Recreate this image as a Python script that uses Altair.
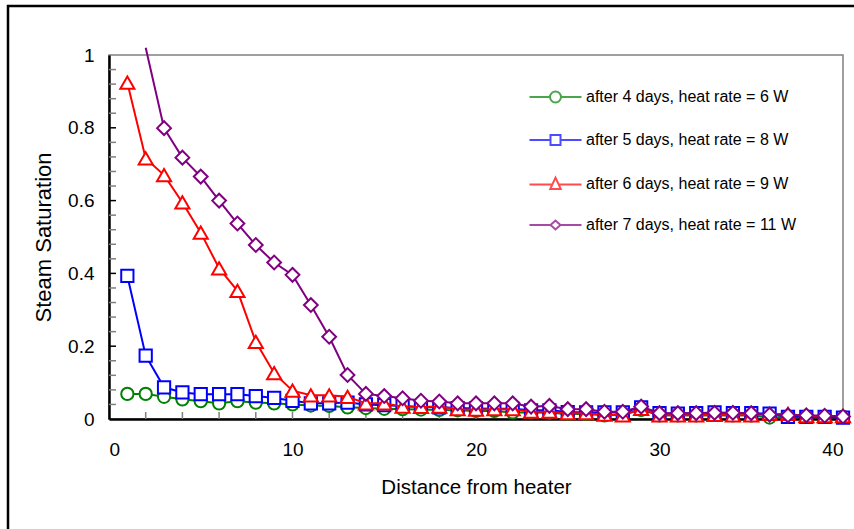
import altair as alt
import pandas as pd

# ---------------- data ----------------
X = list(range(1, 41))
SERIES = [
    "after 4 days, heat rate = 6 W",
    "after 5 days, heat rate = 8 W",
    "after 6 days, heat rate = 9 W",
    "after 7 days, heat rate = 11 W",
]
COLORS = ["#008000", "#0000FF", "#FF0000", "#800080"]

DAY4 = [0.069, 0.069, 0.061, 0.054, 0.049, 0.043, 0.049, 0.045, 0.043, 0.040,
        0.037, 0.036, 0.032, 0.030, 0.028, 0.027, 0.026, 0.025, 0.024, 0.022,
        0.022, 0.018, 0.018, 0.017, 0.014, 0.014, 0.010, 0.012, 0.025, 0.010,
        0.010, 0.010, 0.011, 0.010, 0.010, 0.004, 0.006, 0.006, 0.006, 0.006]
DAY5 = [0.393, 0.174, 0.087, 0.073, 0.068, 0.068, 0.068, 0.063, 0.058, 0.050,
        0.043, 0.043, 0.045, 0.040, 0.038, 0.036, 0.033, 0.032, 0.030, 0.029,
        0.028, 0.028, 0.024, 0.024, 0.019, 0.018, 0.018, 0.018, 0.032, 0.016,
        0.015, 0.016, 0.018, 0.016, 0.016, 0.015, 0.006, 0.006, 0.006, 0.004]
DAY6 = [0.924, 0.716, 0.670, 0.595, 0.512, 0.414, 0.352, 0.212, 0.126, 0.078,
        0.065, 0.065, 0.061, 0.043, 0.043, 0.034, 0.033, 0.034, 0.027, 0.026,
        0.027, 0.027, 0.020, 0.020, 0.016, 0.016, 0.012, 0.010, 0.028, 0.010,
        0.010, 0.010, 0.011, 0.010, 0.010, 0.014, 0.014, 0.008, 0.008, 0.008]
DAY7 = [None, 1.02, 0.799, 0.718, 0.666, 0.600, 0.537, 0.478, 0.430, 0.396,
        0.313, 0.226, 0.121, 0.069, 0.063, 0.057, 0.050, 0.048, 0.043, 0.043,
        0.043, 0.043, 0.034, 0.036, 0.027, 0.027, 0.020, 0.020, 0.034, 0.016,
        0.016, 0.016, 0.017, 0.017, 0.016, 0.012, 0.010, 0.010, 0.009, 0.007]
VALUES = [DAY4, DAY5, DAY6, DAY7]

Y_LABELS = [0, 0.2, 0.4, 0.6, 0.8, 1]
X_LABELS = [0, 10, 20, 30, 40]
Y_MAJOR_TICKS = [0.2, 0.4, 0.6, 0.8]
Y_MINOR_TICKS = [0.04, 0.08, 0.12, 0.16, 0.24, 0.28, 0.32, 0.36, 0.44, 0.48, 0.52,
                 0.56, 0.64, 0.68, 0.72, 0.76, 0.84, 0.88, 0.92, 0.96]
X_TICKS = [2, 4, 6, 8, 10, 12, 14, 16, 18, 20, 22, 24, 26, 28, 30, 32, 34, 36, 38]

# ---------------- styling ----------------
MARK_SHAPES = ["circle", "square", "triangle-up", "diamond"]
MARK_SIZES = [150, 150, 200, 190]
LEGEND_PATHS = [
    "M-4.73,0H-1M1,0H4.73M-1,0A1,1,0,1,1,1,0A1,1,0,1,1,-1,0Z",
    "M-4.73,0H-0.91M0.91,0H4.73M-0.91,-0.91H0.91V0.91H-0.91Z",
    "M-4.73,0.1H-0.54M0.54,0.1H4.73M0,-1.15L0.95,0.9H-0.95Z",
    "M-4.73,0H-0.91M0.91,0H4.73M-0.91,0L0,-0.82L0.91,0L0,0.82Z",
]
FONT = "Liberation Sans"
W, H = 734, 364

rows = []
for s, vals in zip(SERIES, VALUES):
    for x, v in zip(X, vals):
        if v is not None:
            rows.append({"x": x, "v": v, "series": s})
df = pd.DataFrame(rows)

xscale = alt.Scale(domain=[0, 40], nice=False, zero=False)
yscale = alt.Scale(domain=[0, 1], nice=False)

x_enc = alt.X(
    "x:Q", scale=xscale,
    axis=alt.Axis(values=X_LABELS, ticks=False, tickSize=0, grid=False,
                  domainColor="black", domainWidth=2.5,
                  labelFont=FONT, labelFontSize=19, labelColor="black",
                  labelBaseline="alphabetic", labelPadding=36,
                  title="Distance from heater", titleFont=FONT, titleFontSize=20.5,
                  titleFontWeight="normal", titleColor="black",
                  titleX=W / 2, titleY=74, titleAlign="center",
                  titleBaseline="alphabetic"),
)
y_enc = alt.Y(
    "v:Q", scale=yscale,
    axis=alt.Axis(values=Y_LABELS, format="~g", ticks=False, tickSize=0, grid=False,
                  domainColor="black", domainWidth=2.5,
                  labelFont=FONT, labelFontSize=19, labelColor="black",
                  labelPadding=15, labelBaseline="middle",
                  title="Steam Saturation", titleFont=FONT, titleFontSize=22,
                  titleFontWeight="normal", titleColor="black",
                  titleX=-66, titleY=H / 2, titleAngle=-90, titleAlign="center",
                  titleBaseline="middle"),
)

# outer frame (decoration)
frame = alt.Chart(pd.DataFrame({"a": [0]})).mark_rect(
    fillOpacity=0, stroke="black", strokeWidth=2.5
).encode(x=alt.value(-101), x2=alt.value(800), y=alt.value(-49), y2=alt.value(600))

ytick_major = alt.Chart(pd.DataFrame({"t": Y_MAJOR_TICKS})).mark_rule(
    color="black", strokeWidth=1.5
).encode(y=alt.Y("t:Q", scale=yscale), x=alt.value(0), x2=alt.value(7))
ytick_minor = alt.Chart(pd.DataFrame({"t": Y_MINOR_TICKS})).mark_rule(
    color="#808080", strokeWidth=1.5
).encode(y=alt.Y("t:Q", scale=yscale), x=alt.value(0), x2=alt.value(7))
xtick = alt.Chart(pd.DataFrame({"t": X_TICKS})).mark_rule(
    color="#808080", strokeWidth=1.5
).encode(x=alt.X("t:Q", scale=xscale), y=alt.value(H), y2=alt.value(H - 7))

layers = [frame, ytick_minor, ytick_major, xtick]
base = alt.Chart(df)
for s, c, shp, sz in zip(SERIES, COLORS, MARK_SHAPES, MARK_SIZES):
    line = base.transform_filter(alt.datum.series == s).mark_line(
        color=c, strokeWidth=2
    ).encode(x=x_enc, y=y_enc)
    pts = base.transform_filter(
        (alt.datum.series == s) & (alt.datum.v <= 1)
    ).mark_point(
        shape=shp, filled=True, fill="white", stroke=c, strokeWidth=2,
        size=sz, opacity=1
    ).encode(x=x_enc, y=y_enc)
    layers += [line, pts]

LEG = dict(title=None, orient="none", legendX=438.5, legendY=34,
           symbolSize=121, symbolStrokeWidth=2,
           labelFont=FONT, labelFontSize=16, labelColor="black",
           labelOffset=22.5, rowPadding=23, padding=0, labelLimit=400)

legend_layer = base.transform_filter("false").mark_point(filled=False, strokeWidth=2).encode(
    x=x_enc, y=y_enc,
    color=alt.Color("series:N", scale=alt.Scale(domain=SERIES, range=COLORS),
                    legend=alt.Legend(**LEG)),
    shape=alt.Shape("series:N", scale=alt.Scale(domain=SERIES, range=LEGEND_PATHS),
                    legend=alt.Legend(**LEG)),
)
layers.append(legend_layer)

chart = alt.layer(*layers).properties(
    width=W, height=H,
    autosize=alt.AutoSizeParams(type="none"),
    padding={"left": 109, "top": 55, "right": 11, "bottom": 110},
    background="white",
).configure_view(stroke="#808080", strokeWidth=1.5)

chart.save("out.html", embed_options={"renderer": "svg", "actions": False})
